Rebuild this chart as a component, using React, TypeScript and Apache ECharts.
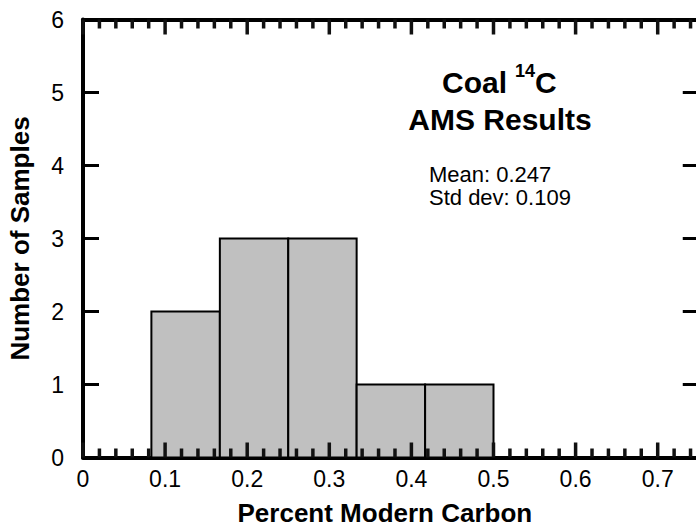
import React, { useEffect, useRef } from "react";
import * as echarts from "echarts";

const binStarts = [0.0833, 0.1667, 0.25, 0.3333, 0.4167];
const binEnds = [0.1667, 0.25, 0.3333, 0.4167, 0.5];
const counts = [2, 3, 3, 1, 1];

const xMin = 0;
const xMax = 0.75;
const xMajor = 0.1;
const majorTicks = [0, 0.1, 0.2, 0.3, 0.4, 0.5, 0.6, 0.7];
const minorTicks = [
  0.02, 0.04, 0.06, 0.08, 0.12, 0.14, 0.16, 0.18, 0.22, 0.24, 0.26, 0.28,
  0.32, 0.34, 0.36, 0.38, 0.42, 0.44, 0.46, 0.48, 0.52, 0.54, 0.56, 0.58,
  0.62, 0.64, 0.66, 0.68, 0.72, 0.74,
];
const yMin = 0;
const yMax = 6;
const yStep = 1;

const titleLine1 = "Coal ";
const titleSup = "14";
const titleLine1End = "C";
const titleLine2 = "AMS Results";
const meanText = "Mean: 0.247";
const stdText = "Std dev: 0.109";
const xName = "Percent Modern Carbon";
const yName = "Number of Samples";

const FONT = "'Liberation Sans', Arial, Helvetica, sans-serif";
const INK = "#111111";

function tickSeries(values: number[], len: number) {
  return {
    type: "custom",
    xAxisIndex: 0,
    yAxisIndex: 0,
    z: 5,
    clip: false,
    encode: { x: 0, y: 1 },
    data: values.map((v) => [v, 3]),
    renderItem: (params: any, api: any) => {
      const b = api.coord([api.value(0), yMin]);
      const t = api.coord([api.value(0), yMax]);
      const st = { stroke: INK, lineWidth: 3.5 };
      return {
        type: "group",
        children: [
          { type: "line", shape: { x1: b[0], y1: b[1], x2: b[0], y2: b[1] - len }, style: st },
          { type: "line", shape: { x1: t[0], y1: t[1], x2: t[0], y2: t[1] + len }, style: st },
        ],
      };
    },
  };
}

export default function App() {
  const ref = useRef<HTMLDivElement>(null);

  useEffect(() => {
    if (!ref.current) return;
    const chart = echarts.init(ref.current, undefined, { renderer: "svg" });

    const data = binStarts.map((s, i) => [s, binEnds[i], counts[i]]);
    const tickStyle = { color: "#000", width: 3 };

    const option = {
      animation: false,
      backgroundColor: "#ffffff",
      grid: { left: 83, right: -2.75, top: 19.5, bottom: 72.5, outerBoundsMode: "none" },
      xAxis: [
        {
          type: "value",
          position: "bottom",
          min: xMin,
          max: xMax,
          interval: xMajor,
          splitLine: { show: false },
          axisLine: { show: true, onZero: false, lineStyle: { color: "#000", width: 4 } },
          axisTick: { show: false },
          axisLabel: {
            show: true,
            margin: 10,
            fontSize: 23,
            color: "#000",
            fontFamily: FONT,
            showMaxLabel: false,
          },
          name: xName,
          nameLocation: "middle",
          nameGap: 42,
          nameTextStyle: {
            fontSize: 26,
            fontWeight: "bold",
            color: "#000",
            fontFamily: FONT,
            padding: [0, 12, 0, 0],
          },
        },
        {
          type: "value",
          position: "top",
          min: xMin,
          max: xMax,
          interval: xMajor,
          splitLine: { show: false },
          axisLine: { show: true, onZero: false, lineStyle: { color: "#000", width: 4 } },
          axisTick: { show: false },
          axisLabel: { show: false },
        },
      ],
      yAxis: [
        {
          type: "value",
          position: "left",
          min: yMin,
          max: yMax,
          interval: yStep,
          splitLine: { show: false },
          axisLine: { show: true, onZero: false, lineStyle: { color: "#000", width: 4 } },
          axisTick: { show: true, inside: true, length: 16, lineStyle: tickStyle },
          axisLabel: { show: true, margin: 19, fontSize: 23, color: "#000", fontFamily: FONT },
          name: yName,
          nameLocation: "middle",
          nameGap: 50,
          nameTextStyle: { fontSize: 26, fontWeight: "bold", color: "#000", fontFamily: FONT },
        },
        {
          type: "value",
          position: "right",
          min: yMin,
          max: yMax,
          interval: yStep,
          splitLine: { show: false },
          axisLine: { show: true, onZero: false, lineStyle: { color: "#000", width: 4 } },
          axisTick: { show: true, inside: true, length: 16, lineStyle: tickStyle },
          axisLabel: { show: false },
        },
      ],
      series: [
        {
          type: "custom",
          xAxisIndex: 0,
          yAxisIndex: 0,
          z: 1,
          encode: { x: [0, 1], y: 2 },
          data,
          renderItem: (params: any, api: any) => {
            const p0 = api.coord([api.value(0), api.value(2)]);
            const p1 = api.coord([api.value(1), 0]);
            return {
              type: "rect",
              shape: { x: p0[0], y: p0[1], width: p1[0] - p0[0], height: p1[1] - p0[1] },
              style: { fill: "#c0c0c0", stroke: "#000", lineWidth: 2 },
            };
          },
        },
        tickSeries(minorTicks, 9),
        tickSeries(majorTicks, 15),
      ],
      graphic: [
        {
          type: "text",
          left: 442,
          top: 67,
          style: { text: titleLine1, font: `bold 30px ${FONT}`, fill: "#000" },
        },
        {
          type: "text",
          left: 515,
          top: 62,
          style: { text: titleSup, font: `bold 18px ${FONT}`, fill: "#000" },
        },
        {
          type: "text",
          left: 535,
          top: 67,
          style: { text: titleLine1End, font: `bold 30px ${FONT}`, fill: "#000" },
        },
        {
          type: "text",
          x: 500,
          y: 119,
          style: {
            text: titleLine2,
            font: `bold 30px ${FONT}`,
            fill: "#000",
            align: "center",
            verticalAlign: "middle",
          },
        },
        {
          type: "text",
          x: 429,
          y: 174.5,
          style: { text: meanText, font: `22px ${FONT}`, fill: "#000", align: "left", verticalAlign: "middle" },
        },
        {
          type: "text",
          x: 429,
          y: 197.5,
          style: { text: stdText, font: `22px ${FONT}`, fill: "#000", align: "left", verticalAlign: "middle" },
        },
      ],
    };

    chart.setOption(option as any);
    return () => chart.dispose();
  }, []);

  return (
    <div
      ref={ref}
      style={{ position: "absolute", left: 0, top: 0, width: 696, height: 530, overflow: "hidden" }}
    />
  );
}
